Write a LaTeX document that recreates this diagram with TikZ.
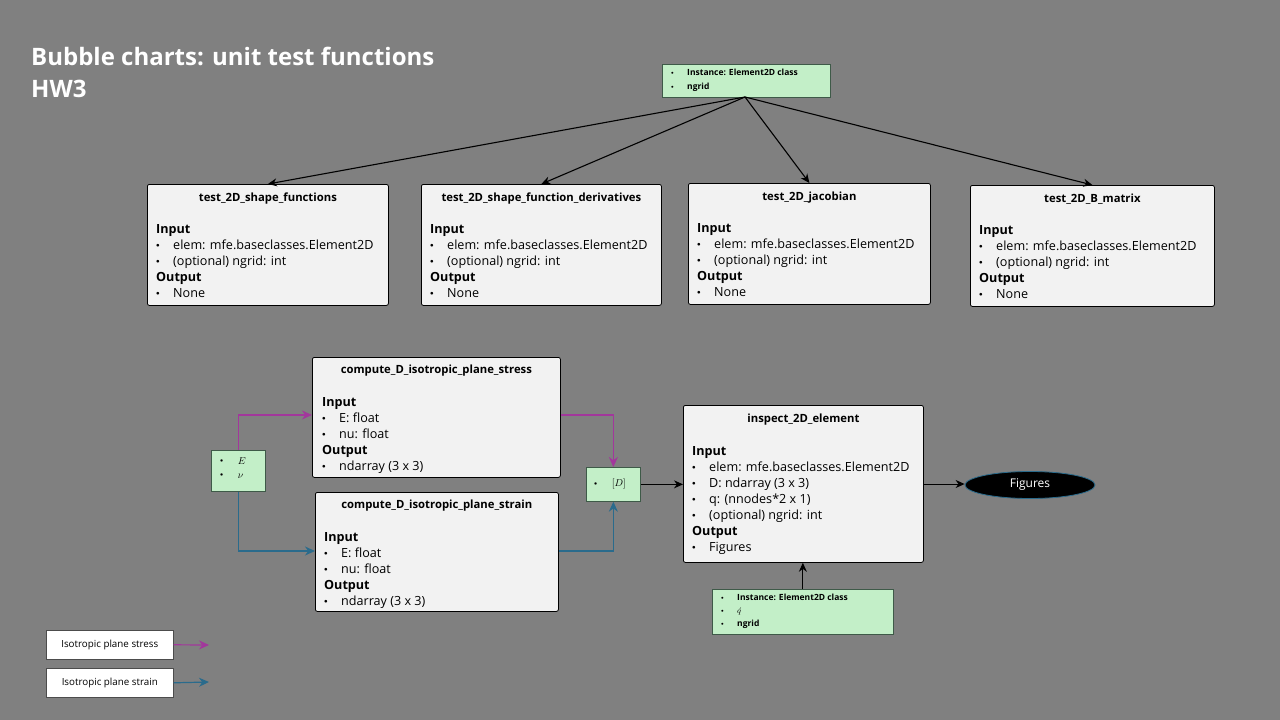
\documentclass[tikz,border=0pt]{standalone}
\usepackage{fontspec}
\setmainfont{Open Sans}
\usetikzlibrary{arrows.meta,shapes.geometric}
\definecolor{bg}{HTML}{808080}
\definecolor{boxfill}{HTML}{F2F2F2}
\definecolor{greenfill}{HTML}{C3EFC8}
\definecolor{greenline}{HTML}{3E5A48}
\definecolor{stresscol}{HTML}{A2379C}
\definecolor{straincol}{HTML}{2A6B8C}
\newcommand{\bul}{\makebox[17pt][l]{\raisebox{1.9pt}{\scalebox{0.6}{$\bullet$}}}}
\newcommand{\gbul}{\makebox[16pt][l]{\raisebox{1.3pt}{\scalebox{0.62}{$\bullet$}}}}
\begin{document}
\begin{tikzpicture}[x=1pt,y=-1pt,
  fnbox/.style={draw=black, fill=boxfill, rounded corners=2pt, line width=0.8pt, anchor=north west, inner sep=0pt},
  fntitle/.style={font=\fontsize{11.3}{13}\selectfont\bfseries, inner sep=0pt},
  fnbody/.style={font=\fontsize{12.6}{16}\selectfont, align=left, anchor=north west, inner sep=0pt},
  gbox/.style={draw=greenline, fill=greenfill, line width=0.7pt, anchor=north west, inner sep=0pt},
  gtext/.style={font=\fontsize{8.5}{13}\selectfont\bfseries, align=left, anchor=north west, inner sep=0pt},
  mtext/.style={font=\fontsize{10}{14}\selectfont, align=left, anchor=north west, inner sep=0pt},
  feed/.style={draw=black, line width=1.1pt, -{Stealth[length=9pt,width=8pt]}},
  flow/.style={draw=black, line width=1pt, -{Stealth[length=9pt,width=8pt]}},
  stressarr/.style={draw=stresscol, line width=1.4pt, -{Stealth[length=10pt,width=9pt]}},
  strainarr/.style={draw=straincol, line width=1.4pt, -{Stealth[length=10pt,width=9pt]}},
  legbox/.style={draw=black!70, fill=white, line width=0.6pt, minimum width=127pt, minimum height=29pt, anchor=north west, inner sep=0pt, font=\fontsize{9.8}{11}\selectfont}
]
% canvas
\fill[bg] (0,0) rectangle (1280,720);
\useasboundingbox (0,0) rectangle (1280,720);

% heading
\node[anchor=north west, align=left, text=white, inner sep=0pt,
      font=\fontsize{24}{32}\selectfont\bfseries] (heading) at (31,47)
  {Bubble charts: unit test functions\\HW3};

% shared inputs for the unit tests
\node[gbox, minimum width=168pt, minimum height=33pt] (inst) at (662,64) {};
\node[gtext] (instt) at ([xshift=9pt,yshift=-5pt]inst.north west)
  {\gbul Instance: Element2D class\\[1pt]\gbul ngrid};

% unit test boxes
\foreach \n/\x/\y/\w/\t in {
  t1/147/184/241/test\_2D\_shape\_functions,
  t2/421/184/240/test\_2D\_shape\_function\_derivatives,
  t3/688/183/242/test\_2D\_jacobian,
  t4/970/185/244/test\_2D\_B\_matrix}{
  \node[fnbox, minimum width=\w pt, minimum height=121pt] (\n) at (\x,\y) {};
  \node[fntitle] (\n h) at ([yshift=-14.5pt]\n.north) {\t};
  \node[fnbody] (\n b) at ([xshift=9pt,yshift=-40pt]\n.north west)
    {\textbf{Input}\\\bul elem: mfe.baseclasses.Element2D\\\bul (optional) ngrid: int\\\textbf{Output}\\\bul None};
}
\coordinate (instout) at (745,97);
\foreach \n in {t1,t2,t3,t4}{
  \draw[feed] (instout) -- (\n.north);
}

% plane stress
\node[fnbox, minimum width=248pt, minimum height=120pt] (pss) at (312,357) {};
\node[fntitle] (pssh) at ([yshift=-13.5pt]pss.north) {compute\_D\_isotropic\_plane\_stress};
\node[fnbody] (pssb) at ([xshift=10pt,yshift=-40.5pt]pss.north west)
  {\textbf{Input}\\\bul E: float\\\bul nu: float\\\textbf{Output}\\\bul ndarray (3 x 3)};

% plane strain
\node[fnbox, minimum width=243pt, minimum height=119pt] (psn) at (315,492) {};
\node[fntitle] (psnh) at ([yshift=-13.5pt]psn.north) {compute\_D\_isotropic\_plane\_strain};
\node[fnbody] (psnb) at ([xshift=9pt,yshift=-40.5pt]psn.north west)
  {\textbf{Input}\\\bul E: float\\\bul nu: float\\\textbf{Output}\\\bul ndarray (3 x 3)};

% material parameters
\node[gbox, minimum width=54pt, minimum height=41pt] (mat) at (211,450) {};
\node[mtext] (matt) at ([xshift=9pt,yshift=-7pt]mat.north west)
  {\gbul\,$E$\\\gbul\,$\nu$};

% constitutive matrix
\node[gbox, minimum width=54pt, minimum height=34pt] (dmat) at (586,467) {};
\node[mtext, anchor=west] (dmatt) at ([xshift=8pt]dmat.west) {\gbul\,$[D]$};

% element inspection
\node[fnbox, minimum width=240pt, minimum height=157pt] (insp) at (683,405) {};
\node[fntitle] (insph) at ([yshift=-14.5pt]insp.north) {inspect\_2D\_element};
\node[fnbody] (inspb) at ([xshift=9pt,yshift=-41.5pt]insp.north west)
  {\textbf{Input}\\\bul elem: mfe.baseclasses.Element2D\\\bul D: ndarray (3 x 3)\\\bul q: (nnodes*2 x 1)\\\bul (optional) ngrid: int\\\textbf{Output}\\\bul Figures};

\node[ellipse, draw=straincol, line width=0.8pt, fill=black, text=white, minimum width=130pt,
      minimum height=27pt, inner sep=0pt, font=\fontsize{12}{13}\selectfont] (fig) at (1030,485) {Figures};

\node[gbox, minimum width=181pt, minimum height=45pt] (inst2) at (712,589) {};
\node[gtext] (inst2t) at ([xshift=9pt,yshift=-5pt]inst2.north west)
  {\gbul Instance: Element2D class\\\gbul $\acute{q}$\\\gbul ngrid};

% stress/strain routes
\draw[stressarr] (mat.north) |- (pss.west |- 0,415);
\draw[strainarr] (mat.south) |- (psn.west |- 0,551);
\draw[stressarr] (pss.east |- 0,415) -| (dmat.north);
\draw[strainarr] (psn.east |- 0,551) -| (dmat.south);
\draw[flow] (dmat.east) -- (insp.west |- dmat.east);
\draw[flow] (insp.east |- 0,484) -- (fig.west |- 0,484);
\draw[flow] (inst2.north) -- (inst2.north |- insp.south);

% legend
\node[legbox] (legs) at (46,630) {Isotropic plane stress};
\node[legbox] (legn) at (46,668) {Isotropic plane strain};
\coordinate (legsend) at (209,645);
\coordinate (legnend) at (209,682);
\draw[stressarr, line width=1.2pt] (legs.east) -- (legsend);
\draw[strainarr, line width=1.2pt] (legn.east) -- (legnend);
\end{tikzpicture}
\end{document}
